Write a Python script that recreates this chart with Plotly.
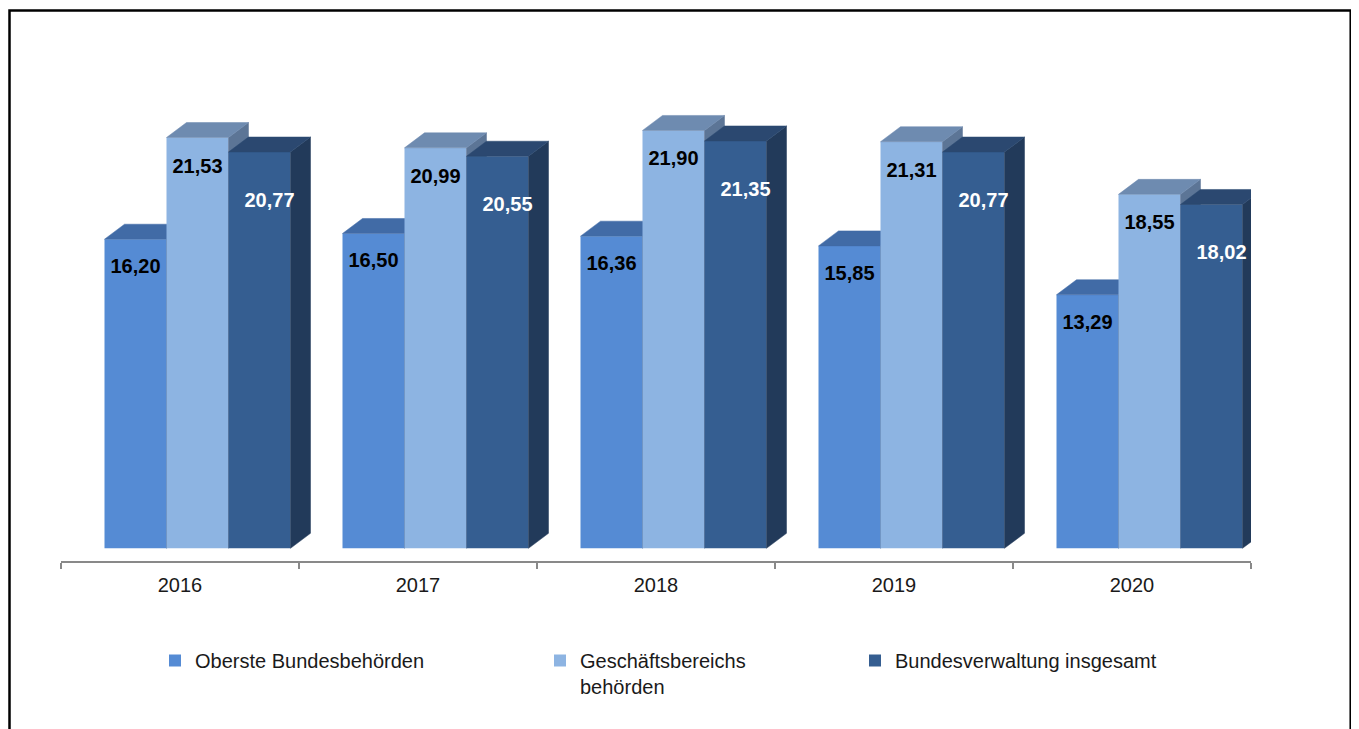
import plotly.graph_objects as go

# ---------------- data ----------------
years = ["2016", "2017", "2018", "2019", "2020"]
series_names = ["Oberste Bundesbehörden", "Geschäftsbereichs<br>behörden", "Bundesverwaltung insgesamt"]
oberste = [16.20, 16.50, 16.36, 15.85, 13.29]
geschaeftsbereich = [21.53, 20.99, 21.90, 21.31, 18.55]
gesamt = [20.77, 20.55, 21.35, 20.77, 18.02]
all_series = [oberste, geschaeftsbereich, gesamt]

# ---------------- style ----------------
FONT = "Liberation Sans, Arial, sans-serif"
front_colors = ["#558BD4", "#8DB4E2", "#355E91"]
top_colors = ["#416BA6", "#6E8BB0", "#2B4870"]
side_colors = ["#3A5F94", "#5C7596", "#223A5A"]
label_colors = ["#000000", "#000000", "#FFFFFF"]
label_off_px = [29, 30, 50]

PAGE_OFF = 8                    # browser body margin
W, H = 1359, 729
ML, MT = 61 - PAGE_OFF, 80 - PAGE_OFF
PW = 1190
PH = 481
MR = W - ML - PW
MB = H - MT - PH
PX_X = PW / len(years)          # pixels per category
PX_Y = 19.08                    # pixels per value unit
FLOOR_PX = 12.7                 # zero line above plot bottom
Y0 = -FLOOR_PX / PX_Y
Y1 = Y0 + PH / PX_Y

BAR_W = 62 / PX_X
GROUP_OFF = -75.5 / PX_X
DX = 20 / PX_X
DY = 15 / PX_Y

fig = go.Figure()
xs = list(range(len(years)))

for k, vals in enumerate(all_series):
    xa = "x" if k == 0 else f"x{k+1}"
    ya = "y" if k == 0 else f"y{k+1}"
    off = GROUP_OFF + k * BAR_W
    legend_id = "legend" if k == 0 else f"legend{k+1}"
    # front faces
    fig.add_trace(go.Bar(
        x=xs, y=vals, width=BAR_W, offset=off,
        marker=dict(color=front_colors[k], line=dict(width=0)),
        name=series_names[k], xaxis=xa, yaxis=ya,
        legend=legend_id, hoverinfo="skip",
    ))
    # top and side faces computed from values
    tx, ty, sx, sy = [], [], [], []
    for i, v in enumerate(vals):
        xl = i + off
        xr = xl + BAR_W
        tx += [xl, xr, xr + DX, xl + DX, xl, None]
        ty += [v, v, v + DY, v + DY, v, None]
        sx += [xr, xr + DX, xr + DX, xr, xr, None]
        sy += [0, DY, v + DY, v, 0, None]
    fig.add_trace(go.Scatter(
        x=sx, y=sy, mode="lines", fill="toself", fillcolor=side_colors[k],
        line=dict(width=0.5, color=side_colors[k]), showlegend=False,
        hoverinfo="skip", xaxis=xa, yaxis=ya,
    ))
    fig.add_trace(go.Scatter(
        x=tx, y=ty, mode="lines", fill="toself", fillcolor=top_colors[k],
        line=dict(width=0.5, color=top_colors[k]), showlegend=False,
        hoverinfo="skip", xaxis=xa, yaxis=ya,
    ))
    # value labels
    lx = [i + off + BAR_W / 2 + (DX / 2 if k == 2 else 0) for i in xs]
    ly = [v - label_off_px[k] / PX_Y for v in vals]
    fig.add_trace(go.Scatter(
        x=lx, y=ly, mode="text",
        text=[f"{v:.2f}".replace(".", ",") for v in vals],
        textfont=dict(family=FONT, size=20, color=label_colors[k], weight="bold"),
        showlegend=False, hoverinfo="skip", xaxis=xa, yaxis=ya,
    ))

axis_gray = "#898989"
fig.update_layout(
    width=W, height=H,
    margin=dict(l=ML, r=MR, t=MT, b=MB, autoexpand=False),
    paper_bgcolor="white", plot_bgcolor="white",
    barmode="overlay",
    font=dict(family=FONT, size=20, color="#1a1a1a"),
    xaxis=dict(
        range=[-0.5, len(years) - 0.5], tickmode="array", tickvals=xs, ticktext=years,
        showline=True, linecolor=axis_gray, linewidth=2, showgrid=False, zeroline=False,
        ticks="outside", ticklen=0, ticklabelstandoff=5, tickangle=0,
        minor=dict(tickmode="array", tickvals=[i - 0.5 for i in range(len(years) + 1)],
                   ticks="outside", ticklen=6, tickwidth=2, tickcolor=axis_gray),
        tickfont=dict(family=FONT, size=20, color="#1a1a1a"),
        fixedrange=True, automargin=False,
    ),
    yaxis=dict(range=[Y0, Y1], visible=False, fixedrange=True),
    xaxis2=dict(overlaying="x", matches="x", visible=False),
    yaxis2=dict(overlaying="y", matches="y", visible=False),
    xaxis3=dict(overlaying="x", matches="x", visible=False),
    yaxis3=dict(overlaying="y", matches="y", visible=False),
)

legend_text_x = [195 - PAGE_OFF, 580 - PAGE_OFF, 895 - PAGE_OFF]
legend_top_y = 633
for k in range(3):
    key = "legend" if k == 0 else f"legend{k+1}"
    fig.update_layout({key: dict(
        xref="container", yref="container",
        x=(legend_text_x[k] - 40) / W, y=1 - legend_top_y / H,
        xanchor="left", yanchor="top", valign="top",
        bgcolor="rgba(0,0,0,0)", borderwidth=0,
        font=dict(family=FONT, size=20, color="#1a1a1a"),
    )})

# outer frame
fig.add_shape(
    type="rect", xref="paper", yref="paper",
    x0=(9.5 - PAGE_OFF - ML) / PW, x1=(1350.7 - PAGE_OFF - ML) / PW,
    y0=(MT + PH - 760) / PH, y1=(MT + PH - (10.5 - PAGE_OFF)) / PH,
    line=dict(color="black", width=2.5), fillcolor="rgba(0,0,0,0)",
)

fig.write_html("out.html")
